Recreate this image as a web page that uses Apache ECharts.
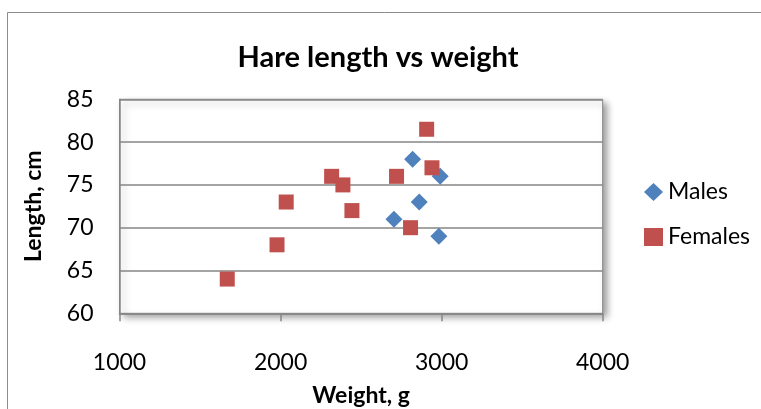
<!DOCTYPE html>
<html>
<head>
<meta charset="utf-8">
<script src="https://cdn.jsdelivr.net/npm/echarts@6/dist/echarts.min.js"></script>
<style>
html,body{margin:0;padding:0;background:#fff;}
#chart{width:761px;height:409px;}
</style>
</head>
<body>
<div id="chart"></div>
<script>
const titleText = 'Hare length vs weight';
const xAxisName = 'Weight, g';
const yAxisName = 'Length, cm';
const seriesNames = ['Males', 'Females'];
const malesWeight = [2820, 2991, 2861, 2704, 2983];
const malesLength = [78, 76, 73, 71, 69];
const femalesWeight = [1669, 1978, 2035, 2317, 2387, 2443, 2720, 2807, 2907, 2940];
const femalesLength = [64, 68, 73, 76, 75, 72, 76, 70, 81.5, 77];
const xTicks = [1000, 2000, 3000, 4000];
const yTicks = [60, 65, 70, 75, 80, 85];

const font = 'Lato, "Open Sans", sans-serif';
const gray = '#868686';

const chart = echarts.init(document.getElementById('chart'), null, {renderer: 'canvas'});
chart.setOption({
  animation: false,
  backgroundColor: '#ffffff',
  graphic: [{
    type: 'rect', silent: true,
    shape: {x: 7.5, y: 12.5, width: 800, height: 500},
    style: {fill: 'none', stroke: '#8c8c8c', lineWidth: 1}
  }],
  title: {
    text: titleText,
    left: 373, top: 36, textAlign: 'center',
    textStyle: {fontFamily: font, fontWeight: 'bold', fontSize: 29, lineHeight: 34, color: '#000'}
  },
  legend: {
    orient: 'vertical', left: 639, top: 174,
    itemWidth: 19, itemHeight: 18, itemGap: 19,
    textStyle: {fontFamily: font, fontSize: 23, lineHeight: 26, color: '#000', padding: [0,0,0,0]},
    data: [{name: seriesNames[0], icon: 'diamond'}, {name: seriesNames[1], icon: 'rect'}]
  },
  grid: {
    left: 119.5, top: 99.3, right: 158.3, bottom: 95.7,
    containLabel: false, outerBoundsMode: 'none',
    show: true, backgroundColor: '#fff', borderColor: gray, borderWidth: 1,
    shadowBlur: 7, shadowOffsetX: 4, shadowOffsetY: 4, shadowColor: 'rgba(0,0,0,0.4)'
  },
  xAxis: {
    type: 'value', min: xTicks[0], max: xTicks[xTicks.length - 1], interval: 1000,
    name: xAxisName, nameLocation: 'middle', nameGap: 70,
    nameTextStyle: {fontFamily: font, fontWeight: 'bold', fontSize: 23, lineHeight: 24, color: '#000'},
    axisLine: {show: true, lineStyle: {color: gray, width: 1.5}},
    axisTick: {show: true, length: 8, lineStyle: {color: gray, width: 1.5}},
    axisLabel: {fontFamily: font, fontSize: 23, lineHeight: 24, color: '#000', margin: 37,
      formatter: v => String(v)},
    splitLine: {show: false}
  },
  yAxis: {
    type: 'value', min: yTicks[0], max: yTicks[yTicks.length - 1], interval: 5,
    name: yAxisName, nameLocation: 'middle', nameGap: 74,
    nameTextStyle: {fontFamily: font, fontWeight: 'bold', fontSize: 23, lineHeight: 24, color: '#000'},
    axisLine: {show: true, lineStyle: {color: gray, width: 1.5}},
    axisTick: {show: false},
    axisLabel: {fontFamily: font, fontSize: 23, color: '#000', margin: 26,
      formatter: v => String(v)},
    splitLine: {show: true, lineStyle: {color: gray, width: 1.5}}
  },
  series: [{
    name: seriesNames[0], type: 'scatter', symbol: 'diamond', symbolSize: 17,
    itemStyle: {color: '#4F81BD', opacity: 1},
    data: malesWeight.map((w, i) => [w, malesLength[i]])
  }, {
    name: seriesNames[1], type: 'scatter', symbol: 'rect', symbolSize: 15,
    itemStyle: {color: '#C0504D', opacity: 1},
    data: femalesWeight.map((w, i) => [w, femalesLength[i]])
  }]
});
</script>
</body>
</html>
